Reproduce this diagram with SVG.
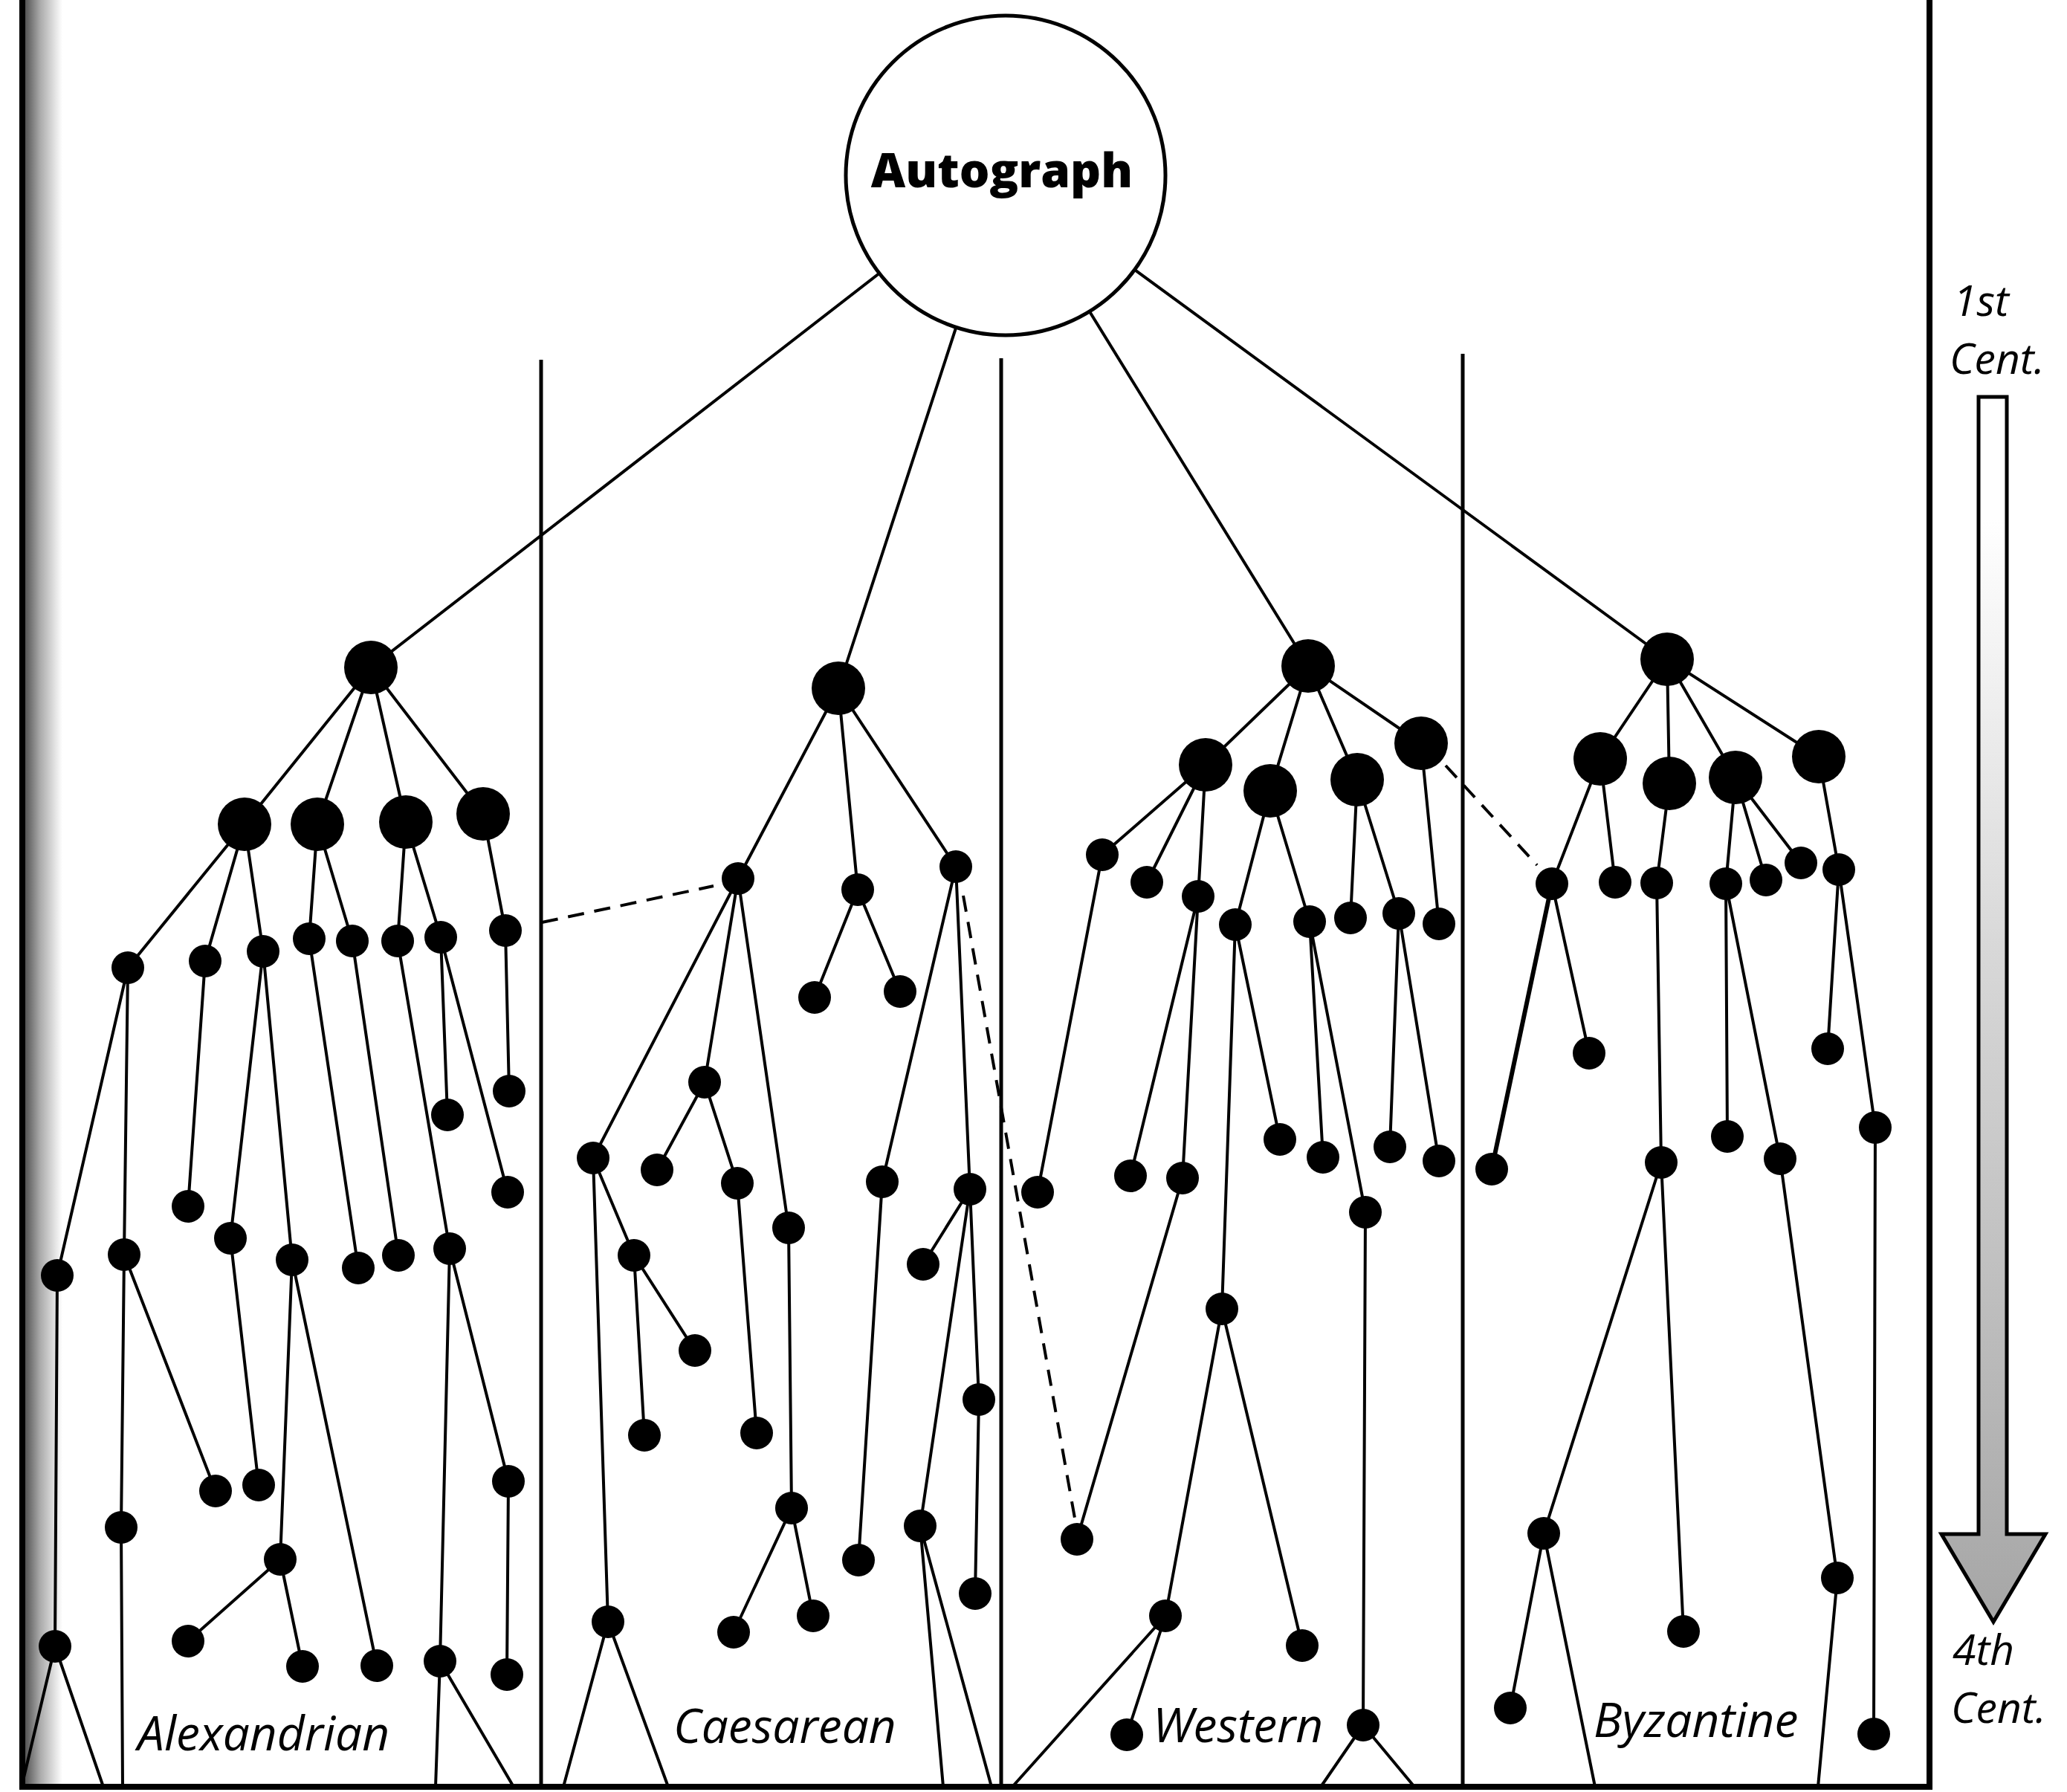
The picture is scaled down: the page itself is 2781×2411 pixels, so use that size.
<svg xmlns="http://www.w3.org/2000/svg" width="2781" height="2411" viewBox="0 0 2781 2411">
<style>
.e{stroke:#000;stroke-width:4;fill:none;stroke-linecap:round}
.t{stroke-width:6}
.d{stroke:#000;stroke-width:4;fill:none;stroke-dasharray:22 14}
.fr{stroke:#000;fill:none}
.n circle{fill:#000}
.lab{font-family:"Open Sans","Liberation Sans",sans-serif;font-style:italic;font-size:64px;fill:#000}
.cent{font-family:"Open Sans","Liberation Sans",sans-serif;font-style:italic;font-size:57px;fill:#000}
</style>
<defs>
<linearGradient id="shadow" x1="0" y1="0" x2="1" y2="0">
<stop offset="0" stop-color="#555"/><stop offset="0.4" stop-color="#aaa"/><stop offset="1" stop-color="#fff"/>
</linearGradient>
<linearGradient id="arr" x1="0" y1="0" x2="0" y2="1">
<stop offset="0" stop-color="#fff"/><stop offset="0.1" stop-color="#fff"/><stop offset="0.45" stop-color="#d8d8d8"/><stop offset="1" stop-color="#a6a6a6"/>
</linearGradient>
</defs>
<rect width="2781" height="2411" fill="#fff"/>
<g id="frame">
<rect x="34" y="0" width="50" height="2404" fill="url(#shadow)"/>
<line class="fr" x1="30" y1="0" x2="30" y2="2408" stroke-width="8"/>
<line class="fr" x1="2596" y1="0" x2="2596" y2="2408" stroke-width="8"/>
<line class="fr" x1="26" y1="2404" x2="2600" y2="2404" stroke-width="8"/>
<line class="fr" x1="728" y1="484" x2="728" y2="2404" stroke-width="5"/>
<line class="fr" x1="1347" y1="482" x2="1347" y2="2404" stroke-width="5"/>
<line class="fr" x1="1968" y1="476" x2="1968" y2="2404" stroke-width="5"/>
</g>
<g id="connectors">
<line class="e" x1="1353" y1="236" x2="499" y2="898"/>
<line class="e" x1="1353" y1="236" x2="1128" y2="926"/>
<line class="e" x1="1353" y1="236" x2="1760" y2="896"/>
<line class="e" x1="1353" y1="236" x2="2243" y2="887"/>
<path class="e" d="M499,898L329,1109M499,898L427,1109M499,898L546,1106M499,898L650,1095
M329,1109L172,1302M329,1109L276,1293M329,1109L354,1280
M427,1109L416,1263M427,1109L474,1266
M546,1106L535,1266M546,1106L593,1261
M650,1095L680,1252
M172,1302L77,1716M172,1302L167,1688
M276,1293L253,1623
M354,1280L310,1666M354,1280L393,1695
M416,1263L482,1706M474,1266L536,1689M535,1266L605,1680
M593,1261L602,1500M593,1261L683,1604
M680,1252L685,1468
M77,1716L74,2215
M167,1688L163,2055L165,2404M167,1688L290,2006
M310,1666L348,1998
M393,1695L377,2098M393,1695L507,2241
M377,2098L253,2208M377,2098L407,2242
M605,1680L592,2235M605,1680L684,1993M684,1993L682,2253
M74,2215L29,2404M74,2215L139,2404
M592,2235L586,2404M592,2235L691,2404"/>
<path class="e" d="M1128,926L993,1182M1128,926L1154,1197M1128,926L1286,1166
M1154,1197L1096,1342M1154,1197L1211,1334
M993,1182L798,1558M993,1182L948,1456M993,1182L1061,1652
M948,1456L884,1574M948,1456L992,1592M992,1592L1018,1928
M798,1558L818,2182M798,1558L853,1689
M853,1689L867,1931M853,1689L935,1817
M1061,1652L1065,2029M1065,2029L987,2196M1065,2029L1094,2174
M1286,1166L1187,1590M1286,1166L1305,1600
M1187,1590L1155,2099
M1305,1600L1242,1701M1305,1600L1238,2053M1305,1600L1317,1883M1317,1883L1312,2144
M818,2182L758,2404M818,2182L899,2404
M1238,2053L1269,2404M1238,2053L1334,2404"/>
<path class="e" d="M1760,896L1622,1029M1760,896L1709,1064M1760,896L1826,1049M1760,896L1912,1000
M1622,1029L1483,1150M1622,1029L1543,1187M1622,1029L1612,1206
M1709,1064L1662,1244M1709,1064L1762,1240
M1826,1049L1817,1235M1826,1049L1882,1229
M1912,1000L1936,1243
M1483,1150L1396,1604
M1612,1206L1521,1582M1612,1206L1591,1585M1591,1585L1449,2071
M1662,1244L1644,1761M1662,1244L1722,1533
M1762,1240L1780,1557M1762,1240L1837,1631M1837,1631L1834,2321
M1882,1229L1870,1543M1882,1229L1936,1562
M1644,1761L1568,2174M1644,1761L1752,2214
M1568,2174L1516,2334M1568,2174L1362,2404
M1834,2321L1777,2404M1834,2321L1903,2404"/>
<path class="e" d="M2243,887L2153,1021M2243,887L2246,1054M2243,887L2335,1046M2243,887L2447,1018
M2153,1021L2088,1189M2153,1021L2173,1187
M2246,1054L2229,1188
M2335,1046L2322,1189M2335,1046L2376,1184M2335,1046L2423,1161
M2447,1018L2474,1170
M2088,1189L2138,1417
M2229,1188L2235,1564
M2322,1189L2324,1529M2322,1189L2395,1559
M2474,1170L2459,1411M2474,1170L2523,1517
M2235,1564L2077,2063M2235,1564L2265,2195
M2077,2063L2032,2298M2077,2063L2146,2404
M2395,1559L2472,2123M2472,2123L2446,2404
M2523,1517L2521,2333"/>
<line class="e t" x1="2088" y1="1189" x2="2007" y2="1573"/>
<line class="d" x1="729" y1="1241" x2="960" y2="1192"/>
<line class="d" x1="1296" y1="1205" x2="1447" y2="2048"/>
<line class="d" x1="1945" y1="1030" x2="2068" y2="1164"/>
</g>
<g id="autograph"><circle cx="1353" cy="236" r="215" fill="#fff" stroke="#000" stroke-width="5"/>
<text x="1348" y="252" text-anchor="middle" font-family="Open Sans, Liberation Sans, sans-serif" font-weight="800" font-size="64" fill="#000">Autograph</text></g>
<g class="n">
<g id="A0"><circle cx="499" cy="898" r="36"/></g>
<g id="A1"><circle cx="329" cy="1109" r="36"/></g>
<g id="A2"><circle cx="427" cy="1109" r="36"/></g>
<g id="A3"><circle cx="546" cy="1106" r="36"/></g>
<g id="A4"><circle cx="650" cy="1095" r="36"/></g>
<g id="Aa"><circle cx="172" cy="1302" r="22"/></g>
<g id="Ab"><circle cx="276" cy="1293" r="22"/></g>
<g id="Ac"><circle cx="354" cy="1280" r="22"/></g>
<g id="Ad"><circle cx="416" cy="1263" r="22"/></g>
<g id="Ae"><circle cx="474" cy="1266" r="22"/></g>
<g id="Af"><circle cx="535" cy="1266" r="22"/></g>
<g id="Ag"><circle cx="593" cy="1261" r="22"/></g>
<g id="Ah"><circle cx="680" cy="1252" r="22"/></g>
<g id="Aga"><circle cx="602" cy="1500" r="22"/></g>
<g id="Aha"><circle cx="685" cy="1468" r="22"/></g>
<g id="Agb"><circle cx="683" cy="1604" r="22"/></g>
<g id="Aba"><circle cx="253" cy="1623" r="22"/></g>
<g id="Aaa"><circle cx="77" cy="1716" r="22"/></g>
<g id="Aab"><circle cx="167" cy="1688" r="22"/></g>
<g id="Aca"><circle cx="310" cy="1666" r="22"/></g>
<g id="Acb"><circle cx="393" cy="1695" r="22"/></g>
<g id="Ada"><circle cx="482" cy="1706" r="22"/></g>
<g id="Aea"><circle cx="536" cy="1689" r="22"/></g>
<g id="Afa"><circle cx="605" cy="1680" r="22"/></g>
<g id="Aaba"><circle cx="163" cy="2055" r="22"/></g>
<g id="Aabb"><circle cx="290" cy="2006" r="22"/></g>
<g id="Acaa"><circle cx="348" cy="1998" r="22"/></g>
<g id="Acba"><circle cx="377" cy="2098" r="22"/></g>
<g id="Acbb"><circle cx="507" cy="2241" r="22"/></g>
<g id="Acbaa"><circle cx="253" cy="2208" r="22"/></g>
<g id="Acbab"><circle cx="407" cy="2242" r="22"/></g>
<g id="Aaaa"><circle cx="74" cy="2215" r="22"/></g>
<g id="Afaa"><circle cx="592" cy="2235" r="22"/></g>
<g id="Afab"><circle cx="684" cy="1993" r="22"/></g>
<g id="Afaba"><circle cx="682" cy="2253" r="22"/></g>

<g id="C0"><circle cx="1128" cy="926" r="36"/></g>
<g id="C1"><circle cx="993" cy="1182" r="22"/></g>
<g id="C2"><circle cx="1154" cy="1197" r="22"/></g>
<g id="C3"><circle cx="1286" cy="1166" r="22"/></g>
<g id="C2a"><circle cx="1096" cy="1342" r="22"/></g>
<g id="C2b"><circle cx="1211" cy="1334" r="22"/></g>
<g id="C1a"><circle cx="798" cy="1558" r="22"/></g>
<g id="C1b"><circle cx="948" cy="1456" r="22"/></g>
<g id="C1c"><circle cx="1061" cy="1652" r="22"/></g>
<g id="C1ba"><circle cx="884" cy="1574" r="22"/></g>
<g id="C1bb"><circle cx="992" cy="1592" r="22"/></g>
<g id="C1bba"><circle cx="1018" cy="1928" r="22"/></g>
<g id="C1aa"><circle cx="818" cy="2182" r="22"/></g>
<g id="C1ab"><circle cx="853" cy="1689" r="22"/></g>
<g id="C1aba"><circle cx="867" cy="1931" r="22"/></g>
<g id="C1abb"><circle cx="935" cy="1817" r="22"/></g>
<g id="C1ca"><circle cx="1065" cy="2029" r="22"/></g>
<g id="C1caa"><circle cx="987" cy="2196" r="22"/></g>
<g id="C1cab"><circle cx="1094" cy="2174" r="22"/></g>
<g id="C3a"><circle cx="1187" cy="1590" r="22"/></g>
<g id="C3b"><circle cx="1305" cy="1600" r="22"/></g>
<g id="C3aa"><circle cx="1155" cy="2099" r="22"/></g>
<g id="C3ba"><circle cx="1242" cy="1701" r="22"/></g>
<g id="C3bb"><circle cx="1238" cy="2053" r="22"/></g>
<g id="C3bc"><circle cx="1317" cy="1883" r="22"/></g>
<g id="C3bca"><circle cx="1312" cy="2144" r="22"/></g>

<g id="W0"><circle cx="1760" cy="896" r="36"/></g>
<g id="W1"><circle cx="1622" cy="1029" r="36"/></g>
<g id="W2"><circle cx="1709" cy="1064" r="36"/></g>
<g id="W3"><circle cx="1826" cy="1049" r="36"/></g>
<g id="W4"><circle cx="1912" cy="1000" r="36"/></g>
<g id="W1a"><circle cx="1483" cy="1150" r="22"/></g>
<g id="W1b"><circle cx="1543" cy="1187" r="22"/></g>
<g id="W1c"><circle cx="1612" cy="1206" r="22"/></g>
<g id="W2a"><circle cx="1662" cy="1244" r="22"/></g>
<g id="W2b"><circle cx="1762" cy="1240" r="22"/></g>
<g id="W3a"><circle cx="1817" cy="1235" r="22"/></g>
<g id="W3b"><circle cx="1882" cy="1229" r="22"/></g>
<g id="W4a"><circle cx="1936" cy="1243" r="22"/></g>
<g id="W1aa"><circle cx="1396" cy="1604" r="22"/></g>
<g id="W1ca"><circle cx="1521" cy="1582" r="22"/></g>
<g id="W1cb"><circle cx="1591" cy="1585" r="22"/></g>
<g id="W2aa"><circle cx="1644" cy="1761" r="22"/></g>
<g id="W2ab"><circle cx="1722" cy="1533" r="22"/></g>
<g id="W2ba"><circle cx="1780" cy="1557" r="22"/></g>
<g id="W2bb"><circle cx="1837" cy="1631" r="22"/></g>
<g id="W3ba"><circle cx="1870" cy="1543" r="22"/></g>
<g id="W3bb"><circle cx="1936" cy="1562" r="22"/></g>
<g id="W1cba"><circle cx="1449" cy="2071" r="22"/></g>
<g id="W2bba"><circle cx="1834" cy="2321" r="22"/></g>
<g id="W2aaa"><circle cx="1568" cy="2174" r="22"/></g>
<g id="W2aab"><circle cx="1752" cy="2214" r="22"/></g>
<g id="W2aaaa"><circle cx="1516" cy="2334" r="22"/></g>

<g id="B0"><circle cx="2243" cy="887" r="36"/></g>
<g id="B1"><circle cx="2153" cy="1021" r="36"/></g>
<g id="B2"><circle cx="2246" cy="1054" r="36"/></g>
<g id="B3"><circle cx="2335" cy="1046" r="36"/></g>
<g id="B4"><circle cx="2447" cy="1018" r="36"/></g>
<g id="B1a"><circle cx="2088" cy="1189" r="22"/></g>
<g id="B1b"><circle cx="2173" cy="1187" r="22"/></g>
<g id="B2a"><circle cx="2229" cy="1188" r="22"/></g>
<g id="B3a"><circle cx="2322" cy="1189" r="22"/></g>
<g id="B3b"><circle cx="2376" cy="1184" r="22"/></g>
<g id="B3c"><circle cx="2423" cy="1161" r="22"/></g>
<g id="B4a"><circle cx="2474" cy="1170" r="22"/></g>
<g id="B1aa"><circle cx="2138" cy="1417" r="22"/></g>
<g id="B1ab"><circle cx="2007" cy="1573" r="22"/></g>
<g id="B2aa"><circle cx="2235" cy="1564" r="22"/></g>
<g id="B3aa"><circle cx="2324" cy="1529" r="22"/></g>
<g id="B3ab"><circle cx="2395" cy="1559" r="22"/></g>
<g id="B4aa"><circle cx="2459" cy="1411" r="22"/></g>
<g id="B4ab"><circle cx="2523" cy="1517" r="22"/></g>
<g id="B2aaa"><circle cx="2077" cy="2063" r="22"/></g>
<g id="B2aab"><circle cx="2265" cy="2195" r="22"/></g>
<g id="B2aaaa"><circle cx="2032" cy="2298" r="22"/></g>
<g id="B3aba"><circle cx="2472" cy="2123" r="22"/></g>
<g id="B4aba"><circle cx="2521" cy="2333" r="22"/></g>
</g>
<g id="labels">
<text class="lab" x="185" y="2355">Alexandrian</text>
<text class="lab" x="906" y="2345">Caesarean</text>
<text class="lab" x="1551" y="2344">Western</text>
<text class="lab" x="2144" y="2337">Byzantine</text>
<text class="cent" x="2628" y="425">1st</text>
<text class="cent" x="2623" y="503">Cent.</text>
<text class="cent" x="2627" y="2240">4th</text>
<text class="cent" x="2625" y="2318">Cent.</text>
</g>
<g id="time-arrow">
<path d="M2662,534L2700,534L2700,2064L2752,2064L2682,2182L2612,2064L2662,2064Z" fill="url(#arr)" stroke="#000" stroke-width="5" stroke-linejoin="miter"/>
</g>
</svg>
